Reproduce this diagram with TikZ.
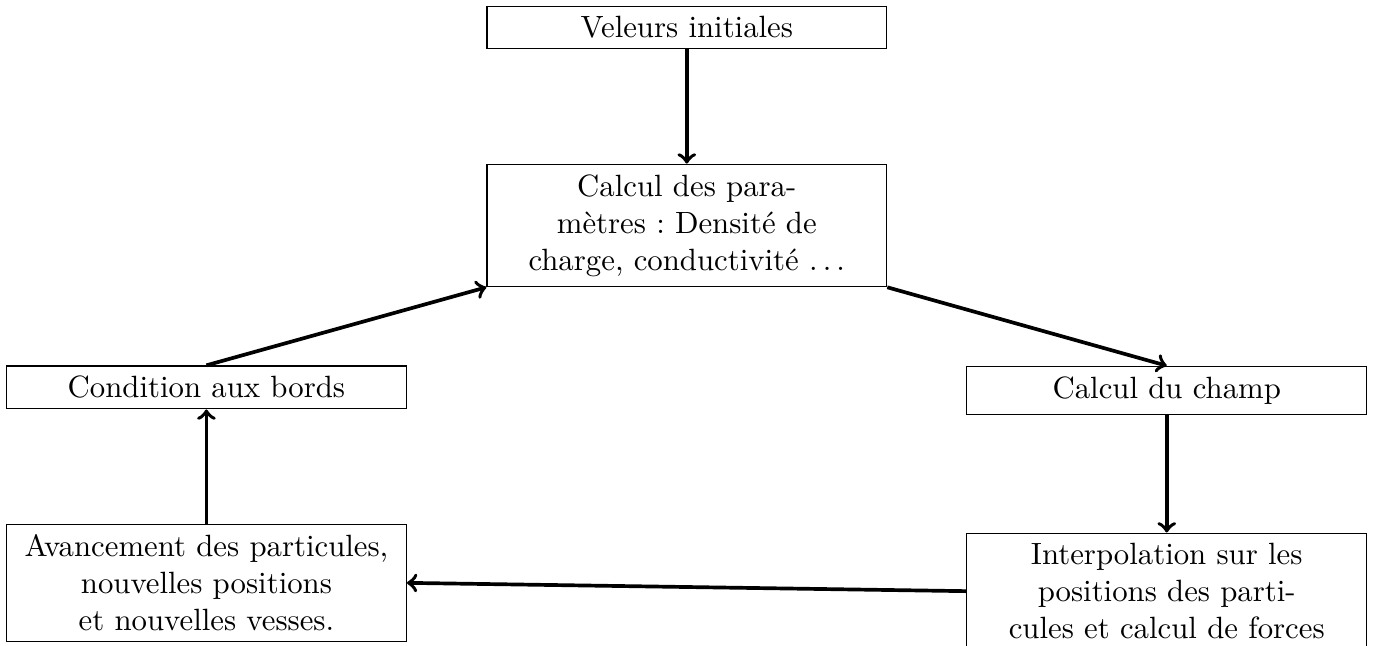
\documentclass[tikz,border=0pt]{standalone}
\usepackage{fontspec}
\frenchspacing
\usetikzlibrary{arrows}
\tikzset{boite/.style={draw, text width=4.33cm, align=center}}
\begin{document}
\begin{tikzpicture}[fleche/.style={->, very thick}]
					\useasboundingbox (0,0) rectangle (15.70,-7.374);
					\node[boite] (init) at (7.842,-0.314) {Veleurs initiales};
					\node[boite] (param) at (7.842,-2.574) {Calcul des para-\\mètres : Densité de\\charge, conductivité $\ldots$};
					\node[boite] (bords) at (2.357,-4.423) {Condition aux bords};
					\node[boite] (champ) at (13.322,-4.458) {Calcul du champ};
					\node[boite] (avance) at (2.357,-6.655) {Avancement des particules,\\nouvelles positions\\et nouvelles vesses.};
					\node[boite, anchor = north] (interp) at (13.322,-6.08) {Interpolation sur les\\positions des parti-\\cules et calcul de forces};
					\draw[fleche] (init)--(param);
					\draw[fleche] (param.south east)--(champ.north);
					\draw[fleche] (champ)--(interp);
					\draw[fleche] (interp.west)--(avance.east);
					\draw[fleche] (avance)--(bords);
					\draw[fleche] (bords.north)--(param.south west);
				\end{tikzpicture}
\end{document}
